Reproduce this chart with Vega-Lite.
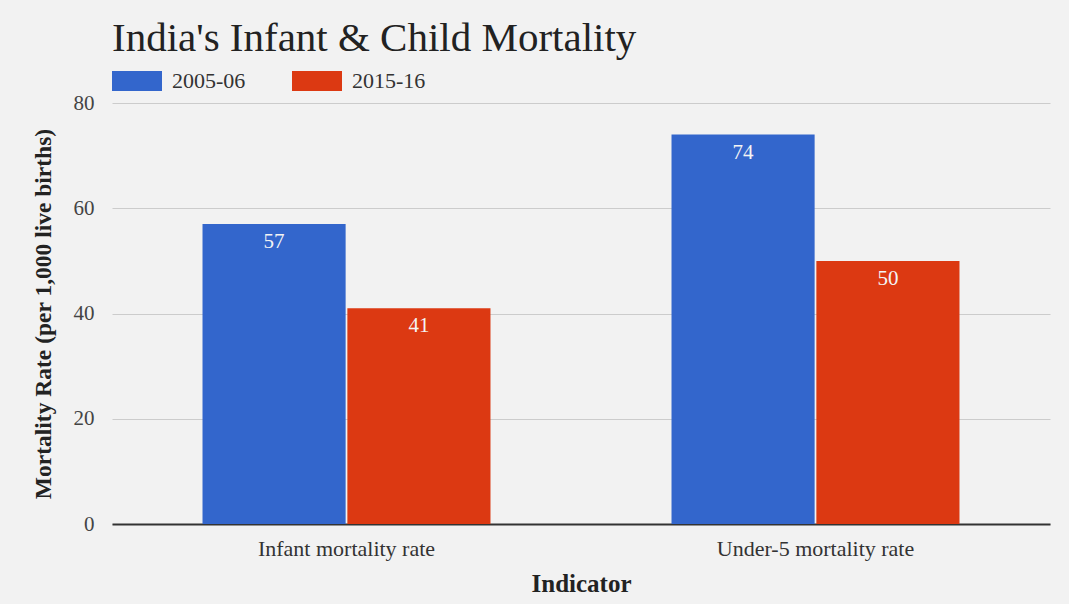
{
  "$schema": "https://vega.github.io/schema/vega-lite/v6.json",
  "width": 938,
  "height": 421,
  "autosize": {"type": "none"},
  "padding": {"left": 112, "top": 103, "right": 19, "bottom": 80},
  "background": "#f2f2f2",
  "config": {
    "view": {"stroke": null},
    "font": "Liberation Serif"
  },
  "title": {
    "text": "India's Infant & Child Mortality",
    "anchor": "start",
    "frame": "group",
    "font": "Liberation Serif",
    "fontSize": 41,
    "fontWeight": "normal",
    "color": "#222222",
    "offset": -4
  },
  "data": {
    "values": [
      {"indicator": "Infant mortality rate", "period": "2005-06", "rate": 57},
      {"indicator": "Infant mortality rate", "period": "2015-16", "rate": 41},
      {"indicator": "Under-5 mortality rate", "period": "2005-06", "rate": 74},
      {"indicator": "Under-5 mortality rate", "period": "2015-16", "rate": 50}
    ]
  },
  "encoding": {
    "x": {
      "field": "indicator",
      "type": "nominal",
      "scale": {"paddingInner": 0.386, "paddingOuter": 0.193},
      "axis": {
        "title": "Indicator",
        "labelAngle": 0,
        "labelLimit": 0,
        "labelFont": "Liberation Serif",
        "labelFontSize": 22,
        "labelColor": "#333333",
        "labelPadding": 14,
        "ticks": false,
        "domain": true,
        "domainColor": "#333333",
        "domainWidth": 2,
        "titleFont": "Liberation Serif",
        "titleFontSize": 25,
        "titleFontWeight": "bold",
        "titleColor": "#222222",
        "titlePadding": 12
      }
    },
    "xOffset": {"field": "period", "type": "nominal", "scale": {"paddingInner": 0.012}},
    "y": {
      "field": "rate",
      "type": "quantitative",
      "scale": {"domain": [0, 80]},
      "axis": {
        "title": "Mortality Rate (per 1,000 live births)",
        "values": [0, 20, 40, 60, 80],
        "labelFont": "Liberation Serif",
        "labelFontSize": 21,
        "labelColor": "#444444",
        "labelPadding": 18,
        "ticks": false,
        "domain": false,
        "gridColor": "#cccccc",
        "titleFont": "Liberation Serif",
        "titleFontSize": 23.5,
        "titleFontWeight": "bold",
        "titleColor": "#222222",
        "titlePadding": 18
      }
    }
  },
  "layer": [
    {
      "mark": {"type": "bar"},
      "encoding": {
        "color": {
          "field": "period",
          "type": "nominal",
          "scale": {"domain": ["2005-06", "2015-16"], "range": ["#3366cc", "#dc3912"]},
          "legend": {
            "title": null,
            "orient": "none",
            "legendX": 0,
            "legendY": -47,
            "direction": "horizontal",
            "padding": 0,
            "symbolType": "M-1,-0.4L1,-0.4L1,0.4L-1,0.4Z",
            "symbolSize": 2500,
            "symbolStrokeWidth": 0,
            "symbolOpacity": 1,
            "labelFont": "Liberation Serif",
            "labelFontSize": 22,
            "labelColor": "#333333",
            "labelOffset": 10,
            "columnPadding": 46
          }
        }
      }
    },
    {
      "mark": {"type": "text", "baseline": "top", "dy": 7, "fontSize": 21, "color": "#f4f4f4", "font": "Liberation Serif"},
      "encoding": {
        "text": {"field": "rate", "type": "quantitative"}
      }
    }
  ]
}
